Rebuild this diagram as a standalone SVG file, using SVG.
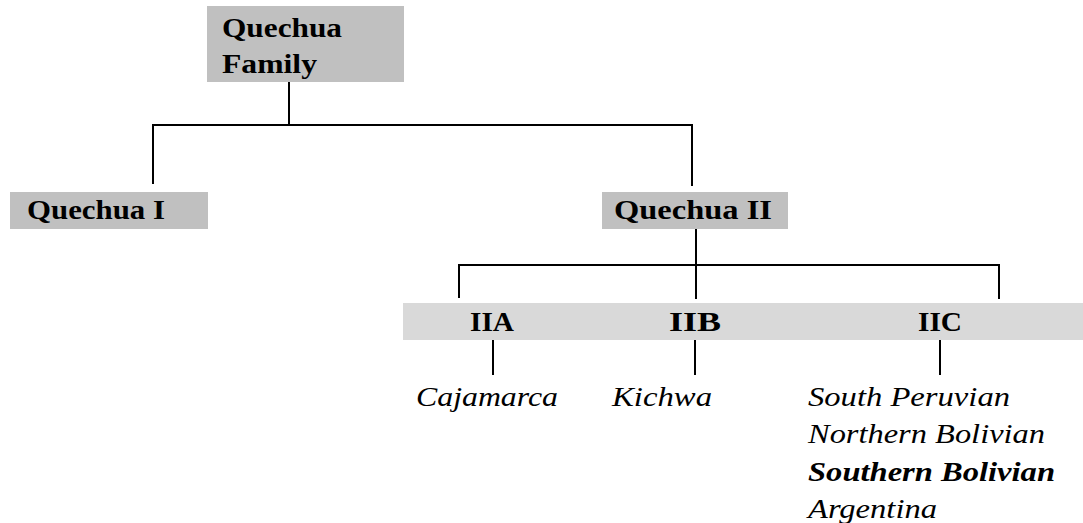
<svg xmlns="http://www.w3.org/2000/svg" width="1083" height="523" viewBox="0 0 1083 523">
<style>
.box{fill:#c0c0c0}
.band{fill:#d9d9d9}
.t{font-family:"Liberation Serif","Times New Roman",serif;font-size:28px;fill:#000}
.b{font-weight:bold}
.i{font-style:italic}
.c{text-anchor:middle}
.ln{stroke:#000;stroke-width:2;fill:none}
</style>
<rect width="1083" height="523" fill="#fff"/>
<g id="connectors">
<line class="ln" x1="289" y1="82" x2="289" y2="125"/>
<line class="ln" x1="153" y1="125" x2="692" y2="125"/>
<line class="ln" x1="153" y1="124" x2="153" y2="184"/>
<line class="ln" x1="692" y1="124" x2="692" y2="186"/>
<line class="ln" x1="696" y1="229" x2="696" y2="299"/>
<line class="ln" x1="459" y1="265" x2="999" y2="265"/>
<line class="ln" x1="459" y1="264" x2="459" y2="298"/>
<line class="ln" x1="999" y1="264" x2="999" y2="299"/>
<line class="ln" x1="493" y1="340" x2="493" y2="375"/>
<line class="ln" x1="695" y1="340" x2="695" y2="375"/>
<line class="ln" x1="940" y1="340" x2="940" y2="375"/>
</g>
<g id="quechua-family">
<rect class="box" x="207" y="6" width="197" height="76"/>
<text class="t b" x="222" y="37" textLength="120" lengthAdjust="spacingAndGlyphs">Quechua</text>
<text class="t b" x="222" y="73" textLength="95" lengthAdjust="spacingAndGlyphs">Family</text>
</g>
<g id="quechua-i">
<rect class="box" x="10" y="192" width="198" height="37"/>
<text class="t b" x="27" y="219" textLength="138" lengthAdjust="spacingAndGlyphs">Quechua I</text>
</g>
<g id="quechua-ii">
<rect class="box" x="602" y="192" width="186" height="37"/>
<text class="t b" x="614" y="219" textLength="158" lengthAdjust="spacingAndGlyphs">Quechua II</text>
</g>
<g id="subgroups">
<rect class="band" x="403" y="303" width="680" height="37"/>
<text class="t b c" x="492" y="331" textLength="44" lengthAdjust="spacingAndGlyphs">IIA</text>
<text class="t b c" x="695" y="331" textLength="52" lengthAdjust="spacingAndGlyphs">IIB</text>
<text class="t b c" x="940" y="331" textLength="44" lengthAdjust="spacingAndGlyphs">IIC</text>
</g>
<g id="cajamarca">
<text class="t i" x="416" y="406" textLength="142" lengthAdjust="spacingAndGlyphs">Cajamarca</text>
</g>
<g id="kichwa">
<text class="t i" x="612" y="406" textLength="100" lengthAdjust="spacingAndGlyphs">Kichwa</text>
</g>
<g id="iic-languages">
<text class="t i" x="808" y="406" textLength="202" lengthAdjust="spacingAndGlyphs">South Peruvian</text>
<text class="t i" x="808" y="443" textLength="237" lengthAdjust="spacingAndGlyphs">Northern Bolivian</text>
<text class="t i b" x="808" y="481" textLength="247" lengthAdjust="spacingAndGlyphs">Southern Bolivian</text>
<text class="t i" x="808" y="518" textLength="129" lengthAdjust="spacingAndGlyphs">Argentina</text>
</g>
</svg>
